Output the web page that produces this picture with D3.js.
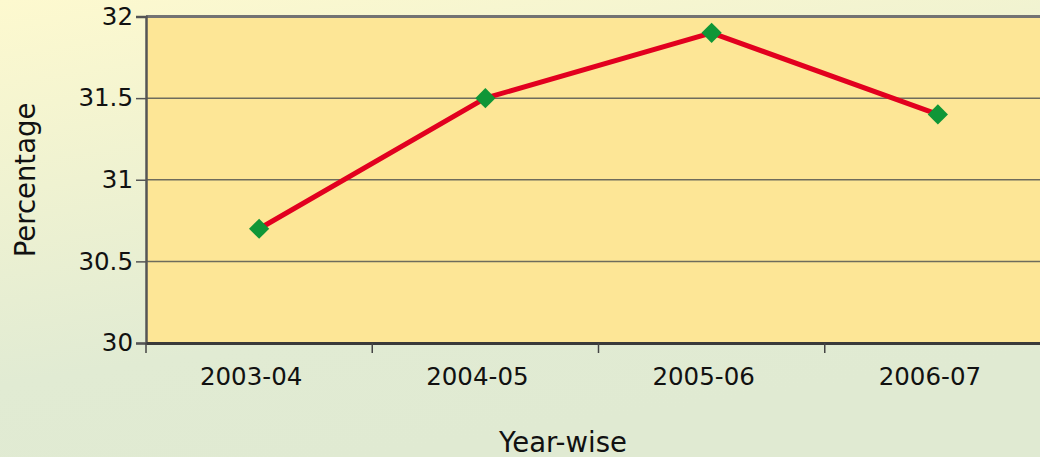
<!DOCTYPE html>
<html><head><meta charset="utf-8">
<script src="https://cdn.jsdelivr.net/npm/d3@7"></script>
<style>html,body{margin:0;padding:0;overflow:hidden;}</style>
</head><body>
<svg id="c" width="1040" height="457"></svg>
<script>
const categories = ["2003-04", "2004-05", "2005-06", "2006-07"];
const values = [30.7, 31.5, 31.9, 31.4];
const yTicks = [30, 30.5, 31, 31.5, 32];
const yTickLabels = ["30", "30.5", "31", "31.5", "32"];

(function(){
const svg = d3.select("#c");
const W = 1040, H = 457;
const defs = svg.append("defs");
const g = defs.append("linearGradient").attr("id","bg").attr("x1","0").attr("y1","0").attr("x2","0.35").attr("y2","1");
g.append("stop").attr("offset","0").attr("stop-color","#fdf9cf");
g.append("stop").attr("offset","0.75").attr("stop-color","#e1ebd3");
g.append("stop").attr("offset","1").attr("stop-color","#e0ead2");
svg.append("rect").attr("width",W).attr("height",H).attr("fill","url(#bg)");

const mL = 146, mR = 1051, mT = 16.5, mB = 343;
const x = d3.scaleBand().domain(categories).range([mL, mR]);
const y = d3.scaleLinear().domain([30, 32]).range([mB, mT]);

svg.append("rect").attr("x",mL).attr("y",mT).attr("width",mR-mL).attr("height",mB-mT).attr("fill","#fde696");

svg.append("g").selectAll("line").data(yTicks.filter(v=>v>30 && v<32)).join("line")
  .attr("x1",mL).attr("x2",mR).attr("y1",d=>y(d)).attr("y2",d=>y(d))
  .attr("stroke","#6e6c5c").attr("stroke-width",1.5);
svg.append("line").attr("x1",mL).attr("x2",mR).attr("y1",y(32)).attr("y2",y(32))
  .attr("stroke","#737373").attr("stroke-width",3);

const font = "'DejaVu Sans', Verdana, sans-serif";
const ya = svg.append("g").attr("transform",`translate(${mL},0)`)
  .call(d3.axisLeft(y).tickValues(yTicks).tickFormat((d,i)=>yTickLabels[i]).tickSize(10).tickPadding(3));
ya.select(".domain").attr("stroke","#555").attr("stroke-width",2.5);
ya.selectAll(".tick line").attr("stroke","#555").attr("stroke-width",1.5);
ya.selectAll("text").attr("font-family",font).attr("font-size",24.5).attr("fill","#111");

const xa = svg.append("g").attr("transform",`translate(0,${mB})`)
  .call(d3.axisBottom(x).tickSize(0).tickPadding(25));
xa.select(".domain").attr("stroke","#3a3a3a").attr("stroke-width",3);
xa.selectAll("text").attr("font-family",font).attr("font-size",24.5).attr("fill","#111").attr("dx",-8);
svg.append("g").selectAll("line").data(categories).join("line")
  .attr("x1",d=>x(d)).attr("x2",d=>x(d)).attr("y1",mB).attr("y2",mB+10)
  .attr("stroke","#444").attr("stroke-width",1.5);

const cx = d => x(d) + x.bandwidth()/2;
svg.append("path").datum(values.map((v,i)=>[cx(categories[i]), y(v)]))
  .attr("d", d3.line()).attr("fill","none").attr("stroke","#e2001f").attr("stroke-width",5);
svg.append("g").selectAll("path").data(values).join("path")
  .attr("d", d3.symbol().type(d3.symbolDiamond2).size(260))
  .attr("transform",(d,i)=>`translate(${cx(categories[i])},${y(d)})`)
  .attr("fill","#0f9637");

svg.append("text").attr("x",563).attr("y",452).attr("text-anchor","middle")
  .attr("font-family",font).attr("font-size",27.5).attr("fill","#111").text("Year-wise");
svg.append("text").attr("transform","translate(35,180) rotate(-90)").attr("text-anchor","middle")
  .attr("font-family",font).attr("font-size",27.5).attr("fill","#111").text("Percentage");
})();
</script>
</body></html>
